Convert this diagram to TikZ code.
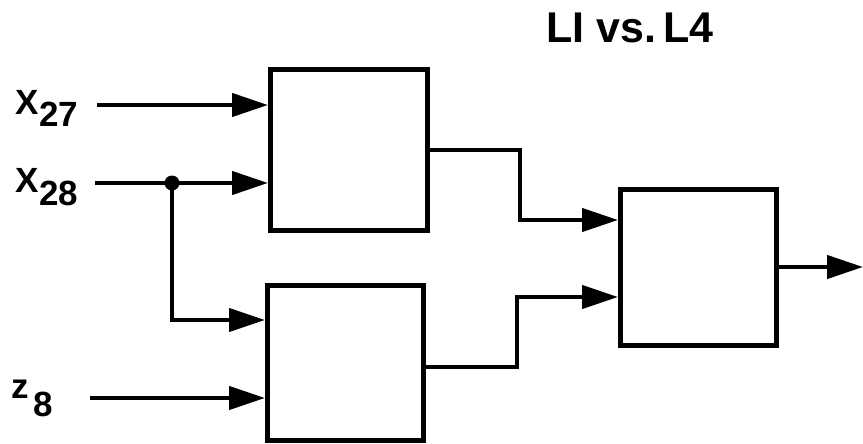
\documentclass[tikz,border=0pt]{standalone}
\usepackage{fontspec}
\setmainfont{Liberation Sans}
\usetikzlibrary{arrows.meta}
\begin{document}
\begin{tikzpicture}[x=1pt,y=-1pt,
  blk/.style={draw, line width=4.8pt, inner sep=0pt, anchor=north west},
  flow/.style={line width=4.4pt, -{Triangle[length=36pt,width=23pt]}},
  lbl/.style={font=\bfseries\fontsize{35}{35}\selectfont, inner sep=0pt, anchor=base west},
  ttl/.style={font=\bfseries\fontsize{43}{43}\selectfont, inner sep=0pt, anchor=base west}]
\useasboundingbox (0,0) rectangle (863,444);

% title
\node[ttl] (title) at (546,43) {LI vs.\,L4};

% blocks
\node[blk, minimum width=157pt, minimum height=161pt] (A) at (268,67) {};
\node[blk, minimum width=156pt, minimum height=155pt] (B) at (265,283) {};
\node[blk, minimum width=156pt, minimum height=156pt] (C) at (618,187) {};

% input labels
\node[lbl] (X27) at (15,114) {X};
\node[lbl] (s27) at (39,127) {27};
\node[lbl] (X28) at (15,192) {X};
\node[lbl] (s28) at (39,205) {28};
\node[lbl] (Z8)  at (11,398) {z};
\node[lbl] (s8)  at (33,416) {8};

% wire end points
\coordinate (i27) at (97,105);
\coordinate (i28) at (95,183);
\coordinate (iz8) at (90,398);
\coordinate (a27) at (268,105);
\coordinate (a28) at (268,183);
\coordinate (bz8) at (265,398);
\coordinate (b28) at (265,320);
\coordinate (aout) at (425,150);
\coordinate (bout) at (421,367);
\coordinate (ca) at (618,220);
\coordinate (cb) at (618,297);
\coordinate (cout) at (774,267);
\coordinate (yout) at (863,267);

% branch point
\node[circle, fill, inner sep=0pt, minimum size=15pt] (jn) at (172,183) {};

% inputs
\draw[flow] (i27) -- (a27);
\draw[flow] (i28) -- (a28);
\draw[flow] (jn.center) |- (b28);
\draw[flow] (iz8) -- (bz8);

% block outputs
\draw[flow] (aout) -- (520,150) -- (520,220) -- (ca);
\draw[flow] (bout) -- (517,367) -- (517,297) -- (cb);
\draw[flow] (cout) -- (yout);
\end{tikzpicture}
\end{document}
